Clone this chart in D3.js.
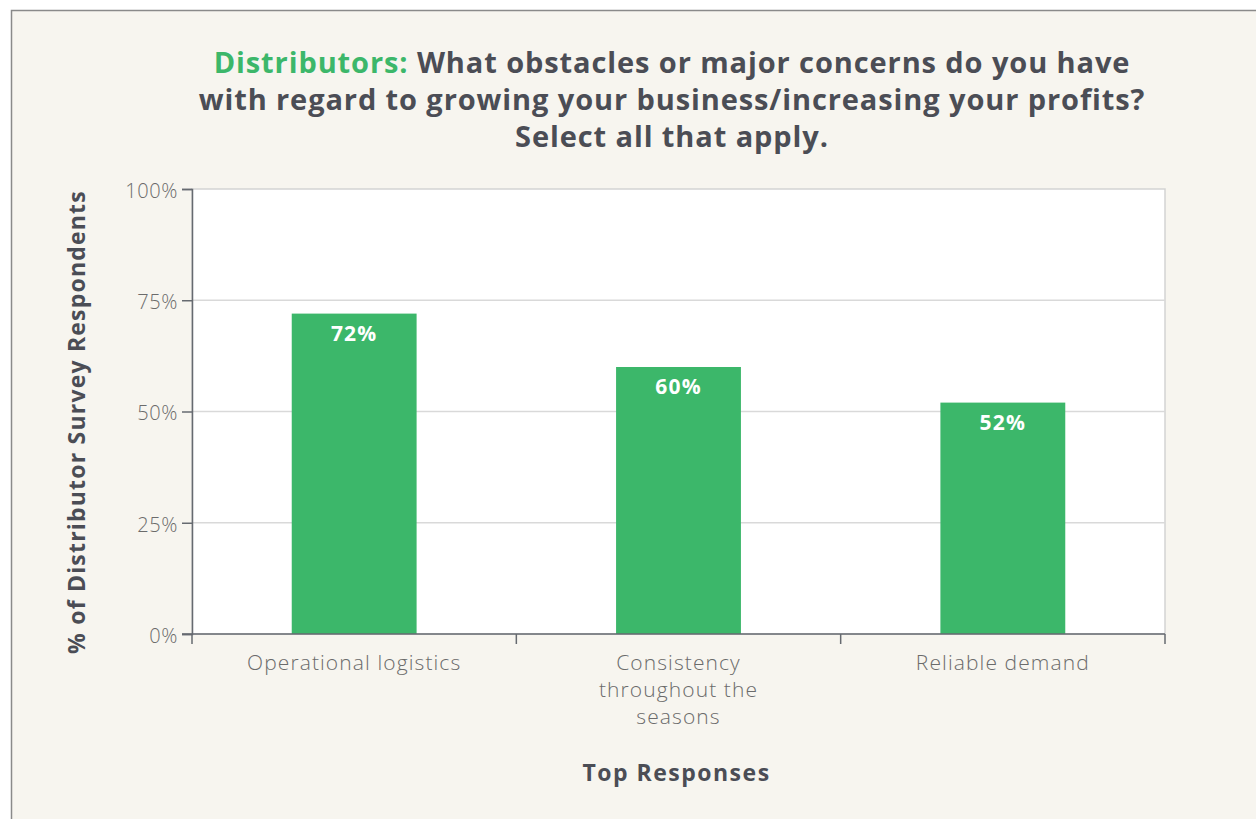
<!DOCTYPE html>
<html><head><meta charset="utf-8">
<script src="https://cdn.jsdelivr.net/npm/d3@7/dist/d3.min.js"></script>
<style>
html,body{margin:0;padding:0;background:#ffffff;}
svg{display:block;font-family:"Open Sans","DejaVu Sans",sans-serif;}
</style></head>
<body>
<svg id="chart" width="1256" height="819"></svg>
<script>
const categories = ["Operational logistics", "Consistency throughout the seasons", "Reliable demand"];
const categoryLines = [["Operational logistics"], ["Consistency", "throughout the", "seasons"], ["Reliable demand"]];
const values = [72, 60, 52];
const yTicks = [0, 25, 50, 75, 100];
const titleLines = [
  [{t:"Distributors: ", g:true}, {t:"What obstacles or major concerns do you have", g:false}],
  [{t:"with regard to growing your business/increasing your profits?", g:false}],
  [{t:"Select all that apply.", g:false}]
];
const yLabel = "% of Distributor Survey Respondents";
const xLabel = "Top Responses";

const svg = d3.select("#chart");
const W = 1256, H = 819;
const green = "#3cb76a", dark = "#4b4d55", tickGray = "#6b6b6b";

// frame
svg.append("rect").attr("x", 11.5).attr("y", 10.5).attr("width", W).attr("height", H)
  .attr("fill", "#f7f5ef").attr("stroke", "#8a8a8a").attr("stroke-width", 1.5);

const m = {left: 192, right: 1165, top: 189, bottom: 634};
const x = d3.scaleBand().domain(categories).range([m.left, m.right]).paddingInner(0.615).paddingOuter(0.3075);
const y = d3.scaleLinear().domain([0, 100]).range([m.bottom, m.top]);

// plot bg
svg.append("rect").attr("x", m.left).attr("y", m.top).attr("width", m.right - m.left).attr("height", m.bottom - m.top)
  .attr("fill", "#ffffff").attr("stroke", "#d3d3d3").attr("stroke-width", 1.5);

// gridlines
svg.append("g").selectAll("line").data(yTicks.filter(d => d > 0 && d < 100)).join("line")
  .attr("x1", m.left).attr("x2", m.right).attr("y1", d => y(d)).attr("y2", d => y(d))
  .attr("stroke", "#d9d9d9").attr("stroke-width", 1.5);

// bars
svg.append("g").selectAll("rect").data(values).join("rect")
  .attr("x", (d, i) => x(categories[i])).attr("width", x.bandwidth())
  .attr("y", d => y(d)).attr("height", d => y(0) - y(d)).attr("fill", green);

// value labels
svg.append("g").selectAll("text").data(values).join("text")
  .attr("x", (d, i) => x(categories[i]) + x.bandwidth() / 2).attr("y", d => y(d) + 27)
  .attr("text-anchor", "middle").attr("fill", "#ffffff").attr("font-weight", 700).attr("font-size", 21)
  .attr("letter-spacing", 1.2)
  .text(d => d + "%");

// y axis
const yAxis = d3.axisLeft(y).tickValues(yTicks).tickFormat(d => d + "%").tickSize(10).tickPadding(4);
const gy = svg.append("g").attr("transform", `translate(${m.left},0)`).call(yAxis);
gy.select(".domain").attr("stroke", "#666a70").attr("stroke-width", 1.5);
gy.selectAll(".tick line").attr("stroke", "#666a70").attr("stroke-width", 1.5);
gy.selectAll(".tick text").attr("fill", tickGray).attr("font-size", 20).attr("font-weight", 300)
  .attr("letter-spacing", 0.6).attr("font-family", "'Open Sans',sans-serif").attr("dy", "0.42em");

// x axis
const gx = svg.append("g").attr("transform", `translate(0,${m.bottom})`);
gx.append("line").attr("x1", m.left - 10).attr("x2", m.right).attr("y1", 0).attr("y2", 0)
  .attr("stroke", "#666a70").attr("stroke-width", 1.5);
const bounds = categories.map(c => x(c) - x.step() * x.paddingInner() / 2);
bounds.push(m.right);
gx.selectAll(".xt").data(bounds).join("line").attr("class", "xt")
  .attr("x1", d => d).attr("x2", d => d).attr("y1", 0).attr("y2", 10)
  .attr("stroke", "#666a70").attr("stroke-width", 1.5);
const xl = gx.selectAll(".xl").data(categories).join("text").attr("class", "xl")
  .attr("x", c => x(c) + x.bandwidth() / 2).attr("y", 36)
  .attr("text-anchor", "middle").attr("fill", tickGray).attr("font-size", 21).attr("font-weight", 300)
  .attr("letter-spacing", 1.1);
xl.each(function(c, i) {
  d3.select(this).selectAll("tspan").data(categoryLines[i]).join("tspan")
    .attr("x", x(c) + x.bandwidth() / 2).attr("dy", (d, j) => j === 0 ? 0 : 27).text(d => d);
});

// title
const tt = svg.append("text").attr("text-anchor", "middle").attr("font-weight", 700).attr("font-size", 29)
  .attr("letter-spacing", 0.9).attr("fill", dark);
titleLines.forEach((line, i) => {
  line.forEach((seg, j) => {
    const ts = tt.append("tspan").text(seg.t).attr("fill", seg.g ? green : dark);
    if (j === 0) ts.attr("x", 672).attr("y", 73 + i * 37);
  });
});

// axis titles
svg.append("text").attr("transform", `translate(85,422) rotate(-90)`)
  .attr("text-anchor", "middle").attr("font-weight", 700).attr("font-size", 23).attr("letter-spacing", 1.2)
  .attr("fill", dark).text(yLabel);
svg.append("text").attr("x", (m.left + m.right) / 2 - 2).attr("y", 781).attr("text-anchor", "middle")
  .attr("font-weight", 700).attr("font-size", 23).attr("letter-spacing", 1.5).attr("fill", dark).text(xLabel);
</script>
</body></html>
